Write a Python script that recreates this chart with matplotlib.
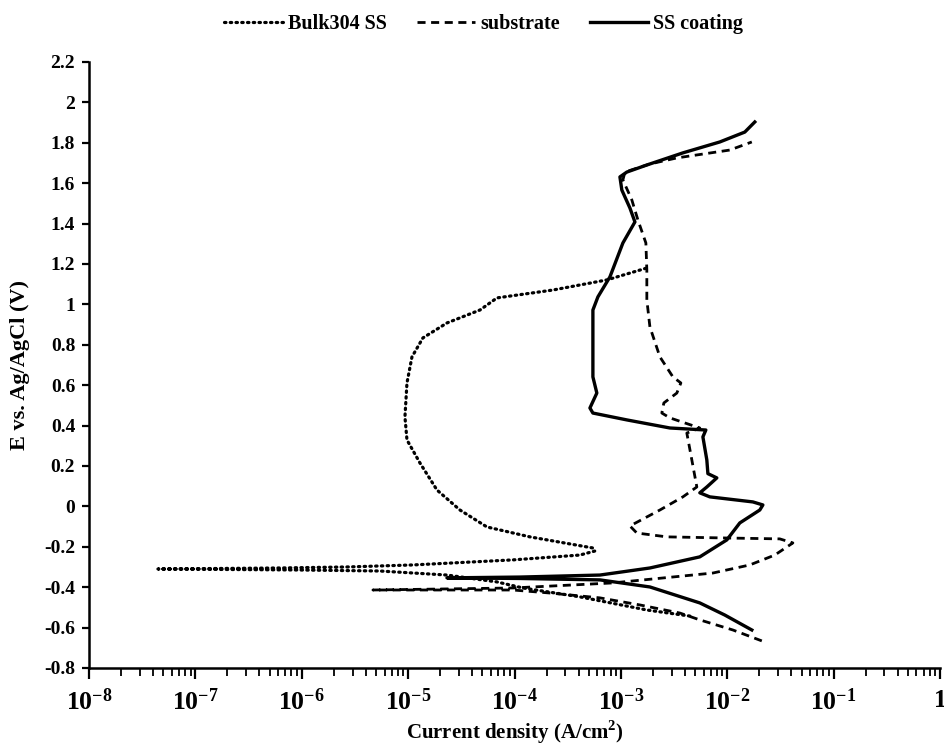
import numpy as np
import matplotlib
matplotlib.use("Agg")
import matplotlib.pyplot as plt
from matplotlib.ticker import FixedLocator, LogLocator, FuncFormatter, NullFormatter

plt.rcParams['font.family'] = ['Liberation Serif', 'DejaVu Serif']
plt.rcParams['font.weight'] = 'bold'
plt.rcParams['mathtext.fontset'] = 'custom'
plt.rcParams['mathtext.rm'] = 'Liberation Serif:bold'
plt.rcParams['mathtext.bf'] = 'Liberation Serif:bold'

# log10 of current density (A/cm2) and potential E (V vs Ag/AgCl)
bulk_logi = [-2.352, -2.756, -3.385, -3.921, -4.165, -4.635, -5.265, -6.017, -7.352,
             -6.205, -5.575, -4.955, -4.015, -3.385, -3.244, -3.263, -3.855, -4.259,
             -4.513, -4.729, -4.889, -5.011, -5.030, -5.011, -4.964, -4.861, -4.635,
             -4.325, -4.165, -3.639, -3.132, -2.756]
bulk_E = [-0.543, -0.513, -0.448, -0.404, -0.374, -0.340, -0.320, -0.315, -0.310,
          -0.305, -0.300, -0.290, -0.265, -0.241, -0.221, -0.206, -0.151, -0.102,
          -0.018, 0.081, 0.215, 0.329, 0.443, 0.611, 0.740, 0.834, 0.908,
          0.972, 1.032, 1.071, 1.121, 1.180]

sub_logi = [-1.675, -1.947, -2.258, -2.446, -2.821, -3.197, -3.667, -4.015, -5.331,
            -4.015, -3.075, -2.135, -1.788, -1.553, -1.383, -1.506, -2.070, -2.568,
            -2.850, -2.915, -2.633, -2.417, -2.286, -2.333, -2.380, -2.258, -2.539,
            -2.615, -2.596, -2.474, -2.436, -2.511, -2.633, -2.727, -2.756, -2.756,
            -2.765, -2.840, -2.897, -2.981, -2.962, -2.727, -2.474, -1.976, -1.769]
sub_E = [-0.666, -0.612, -0.562, -0.528, -0.488, -0.453, -0.429, -0.414, -0.414,
         -0.404, -0.379, -0.330, -0.290, -0.241, -0.181, -0.161, -0.156, -0.151,
         -0.132, -0.097, -0.018, 0.047, 0.096, 0.230, 0.363, 0.388, 0.438,
         0.462, 0.512, 0.561, 0.611, 0.641, 0.740, 0.888, 1.022, 1.170,
         1.304, 1.418, 1.517, 1.616, 1.655, 1.695, 1.725, 1.764, 1.804]

coat_logi = [-1.769, -2.023, -2.258, -2.727, -3.197, -3.949, -4.635, -3.949, -3.197,
             -2.727, -2.258, -2.004, -1.882, -1.694, -1.665, -1.759, -2.164, -2.258,
             -2.192, -2.098, -2.182, -2.192, -2.229, -2.201, -2.539, -2.944, -3.263,
             -3.291, -3.226, -3.263, -3.263, -3.263, -3.216, -3.103, -2.981, -2.868,
             -2.915, -2.991, -3.009, -2.944, -2.756, -2.417, -2.070, -1.835, -1.741]
coat_E = [-0.612, -0.538, -0.478, -0.399, -0.364, -0.357, -0.354, -0.350, -0.340,
          -0.305, -0.250, -0.166, -0.082, -0.018, 0.007, 0.022, 0.047, 0.067,
          0.096, 0.141, 0.162, 0.230, 0.344, 0.378, 0.388, 0.428, 0.462,
          0.487, 0.561, 0.641, 0.725, 0.972, 1.037, 1.136, 1.304, 1.408,
          1.477, 1.566, 1.631, 1.655, 1.690, 1.750, 1.804, 1.853, 1.903]

labels = ['Bulk304 SS', 'substrate', 'SS coating']
y_ticks = np.round(np.arange(-0.8, 2.21, 0.2), 1)

fig = plt.figure(figsize=(9.45, 7.44), dpi=100)
ax = fig.add_axes([0.0942, 0.1022, 0.9005, 0.8145])

ax.plot(10 ** np.array(bulk_logi), bulk_E, color='black', lw=2.3,
        linestyle=(0, (0.45, 1.35)), dash_capstyle='round', label=labels[0])
ax.plot(10 ** np.array(sub_logi), sub_E, color='black', lw=2.0,
        linestyle=(0, (2.9, 2.0)), label=labels[1])
ax.plot(10 ** np.array(coat_logi), coat_E, color='black', lw=2.4,
        linestyle='-', label=labels[2])

ax.set_xscale('log')
ax.set_xlim(1e-8, 1)
ax.set_ylim(-0.8, 2.2)

ax.yaxis.set_major_locator(FixedLocator(y_ticks))
ax.yaxis.set_major_formatter(FuncFormatter(lambda v, p: '%g' % (round(v, 1) + 0.0)))
ax.xaxis.set_major_locator(FixedLocator(10.0 ** np.arange(-8, 1)))
ax.xaxis.set_minor_locator(LogLocator(base=10, subs=np.arange(2, 10), numticks=20))
ax.xaxis.set_minor_formatter(NullFormatter())


def xfmt(v, p):
    e = int(round(np.log10(v)))
    if e == 0:
        return '1'
    return r'$\mathbf{10^{%d}}$' % e


ax.xaxis.set_major_formatter(FuncFormatter(xfmt))

for s in ['top', 'right']:
    ax.spines[s].set_visible(False)
for s in ['left', 'bottom']:
    ax.spines[s].set_linewidth(1.8)

ax.tick_params(axis='y', which='major', direction='out', length=5, width=1.6,
               labelsize=14, pad=5)
ax.tick_params(axis='x', which='major', direction='out', length=8, width=1.6,
               labelsize=18.5, pad=7)
ax.tick_params(axis='x', which='minor', direction='out', length=6, width=1.3)

ax.set_xlabel('Current density (A/cm$^\\mathbf{2}$)', fontsize=15,
              fontweight='bold', labelpad=2)
ax.set_ylabel('E vs. Ag/AgCl (V)', fontsize=16, fontweight='bold', labelpad=10)

fig.legend(loc='upper center', bbox_to_anchor=(0.512, 1.005), ncol=3, frameon=False,
           handlelength=2.9, columnspacing=1.5, handletextpad=0.25,
           prop={'family': 'Liberation Serif', 'weight': 'bold', 'size': 14.5})

fig.savefig('out.png', dpi=100)
